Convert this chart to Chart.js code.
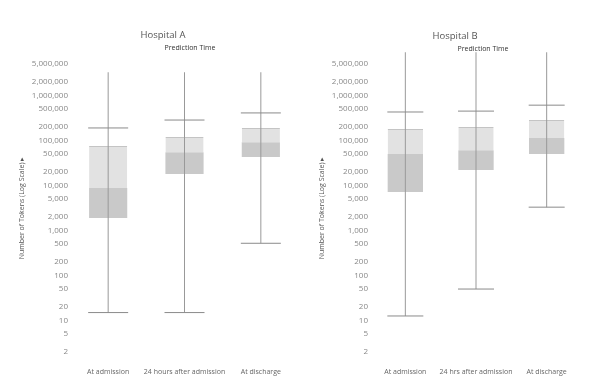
<!DOCTYPE html>
<html>
<head>
<meta charset="utf-8">
<script src="https://cdn.jsdelivr.net/npm/chart.js@4.4.0/dist/chart.umd.min.js"></script>
<style>
  body { margin: 0; background: #fff; width: 601px; height: 390px; position: relative; overflow: hidden; font-family: 'Open Sans', sans-serif; }
  .wrap { position: absolute; top: 0; height: 390px; }
  #wrapA { left: 0; width: 320px; }
  #wrapB { left: 300px; width: 301px; }
  .title { position: absolute; transform: translate(-50%, -50%); white-space: nowrap; }
  .hosp { font-size: 9.5px; color: #555; }
  .pred { font-size: 7px; color: #333; }
</style>
</head>
<body>
<div class="wrap" id="wrapA"><canvas id="chartA"></canvas></div>
<div class="wrap" id="wrapB"><canvas id="chartB"></canvas></div>
<div class="title hosp" style="left:163px; top:34px;">Hospital A</div>
<div class="title pred" style="left:190px; top:47px;">Prediction Time</div>
<div class="title hosp" style="left:455px; top:35px;">Hospital B</div>
<div class="title pred" style="left:483px; top:48px;">Prediction Time</div>
<script>
// Tick labels for the log axis
const yTicks = [2, 5, 10, 20, 50, 100, 200, 500, 1000, 2000, 5000, 10000, 20000, 50000,
                100000, 200000, 500000, 1000000, 2000000, 5000000];

// Hospital A
const categoriesA = ['At admission', '24 hours after admission', 'At discharge'];
const lowA    = [15, 15, 520];
const q1A     = [1900, 18000, 43000];
const medianA = [8800, 55000, 92000];
const q3A     = [75000, 119000, 190000];
const capA    = [190000, 285000, 410000];
const maxA    = [3300000, 3300000, 3300000];

// Hospital B
const categoriesB = ['At admission', '24 hrs after admission', 'At discharge'];
const lowB    = [12.6, 50, 3300];
const q1B     = [7200, 22000, 50000];
const medianB = [50000, 61000, 113000];
const q3B     = [180000, 199000, 285000];
const capB    = [430000, 450000, 610000];
const maxB    = [9200000, 9200000, 9200000];

const LINE = '#8a8a8a';
const LIGHT = '#e2e2e2';
const DARK = '#c9c9c9';

function pairs(a, b) {
    return a.map((v, i) => [v, b[i]]);
}

function makeChart(id, labels, low, q1, med, q3, cap, max, capRadius, padRight) {
    const ctx = document.getElementById(id).getContext('2d');
    return new Chart(ctx, {
        type: 'bar',
        data: {
            labels: labels,
            datasets: [
                {   // upper caps
                    type: 'line', data: cap, showLine: false,
                    pointStyle: 'line', pointRadius: capRadius, pointHoverRadius: capRadius,
                    pointBorderColor: LINE, pointBorderWidth: 1, order: 0
                },
                {   // lower caps
                    type: 'line', data: low, showLine: false,
                    pointStyle: 'line', pointRadius: capRadius, pointHoverRadius: capRadius,
                    pointBorderColor: LINE, pointBorderWidth: 1, order: 1
                },
                {   // whisker line
                    data: pairs(low, max), backgroundColor: '#999',
                    barThickness: 1, inflateAmount: 0, grouped: false, order: 2
                },
                {   // upper half of box
                    data: pairs(med, q3), backgroundColor: LIGHT,
                    borderColor: '#c4c4c4', borderWidth: { top: 1, left: 0, right: 0, bottom: 0 },
                    borderSkipped: false,
                    categoryPercentage: 0.5, barPercentage: 1, grouped: false, order: 3
                },
                {   // lower half of box
                    data: pairs(q1, med), backgroundColor: DARK,
                    categoryPercentage: 0.5, barPercentage: 1, grouped: false, order: 4
                }
            ]
        },
        options: {
            responsive: true,
            maintainAspectRatio: false,
            animation: false,
            layout: { padding: { top: 50.5, right: padRight, left: 0, bottom: 0 } },
            plugins: { legend: { display: false }, tooltip: { enabled: false } },
            scales: {
                x: {
                    grid: { display: false, drawTicks: false },
                    border: { display: false },
                    ticks: { font: { family: 'Open Sans', size: 7 }, color: '#666', padding: 2,
                             maxRotation: 0, autoSkip: false },
                    afterFit: s => { s.height = 24.5; }
                },
                y: {
                    type: 'logarithmic',
                    min: 1,
                    max: 10000000,
                    grid: { display: false, drawTicks: false },
                    border: { display: false },
                    afterBuildTicks: s => { s.ticks = yTicks.map(v => ({ value: v })); },
                    afterFit: s => { s.width = 70; },
                    ticks: {
                        font: { family: 'Open Sans', size: 8 }, color: '#888', padding: 2,
                        autoSkip: false,
                        callback: v => Number(v).toLocaleString('en-US')
                    },
                    title: {
                        display: true,
                        text: 'Number of Tokens (Log Scale) ▸',
                        font: { family: 'Open Sans', size: 7 },
                        color: '#555',
                        padding: { top: 18, bottom: 0 }
                    }
                }
            }
        }
    });
}

makeChart('chartA', categoriesA, lowA, q1A, medianA, q3A, capA, maxA, 20, 8);
makeChart('chartB', categoriesB, lowB, q1B, medianB, q3B, capB, maxB, 18, 11);
</script>
</body>
</html>
